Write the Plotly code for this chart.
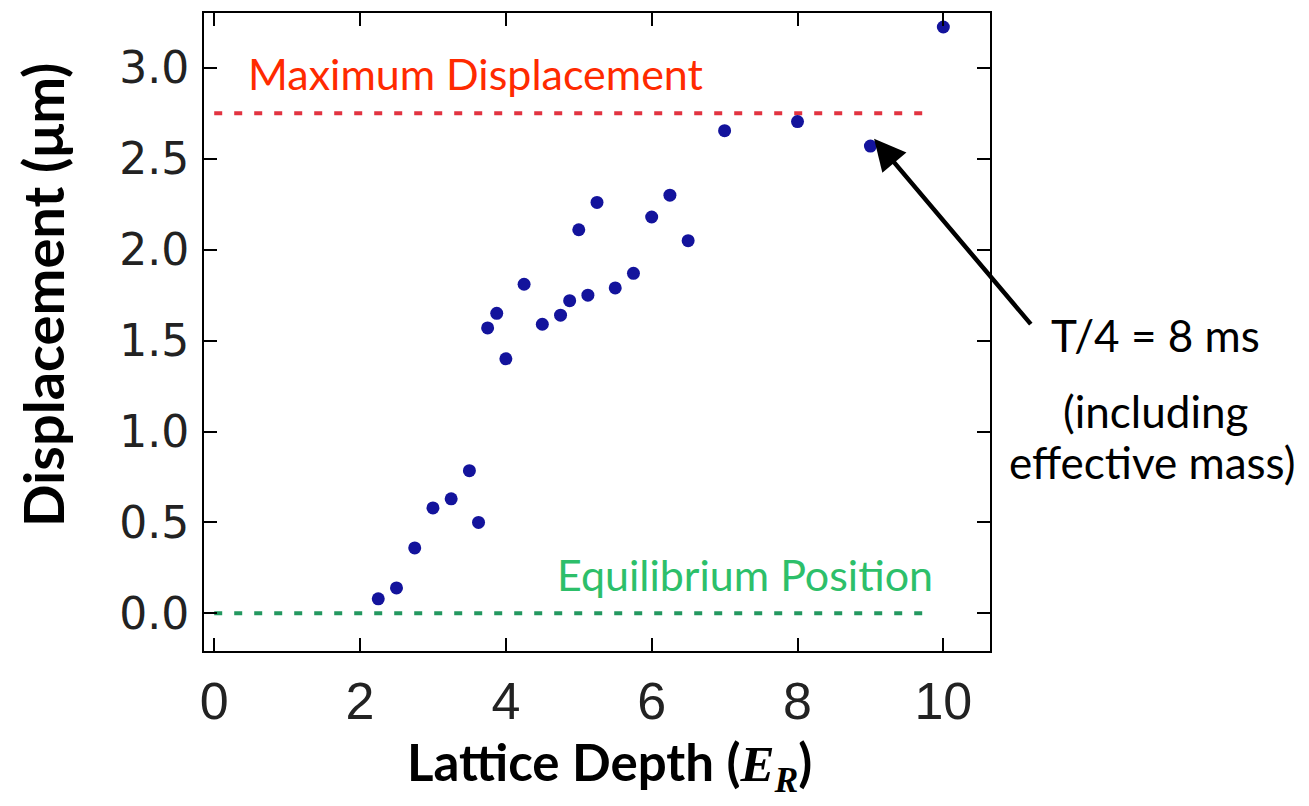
import plotly.graph_objects as go

# Lattice depth (in recoil energies) and measured displacement (um)
depth = [2.25, 2.5, 2.75, 3.0, 3.25, 3.5, 3.625, 3.75, 3.875, 4.0, 4.25, 4.5, 4.75,
         4.875, 5.0, 5.125, 5.25, 5.5, 5.75, 6.0, 6.25, 6.5, 7, 8, 9, 10]
displacement = [0.08, 0.14, 0.36, 0.58, 0.63, 0.785, 0.50, 1.57, 1.65, 1.40, 1.81, 1.59, 1.64,
                1.72, 2.11, 1.75, 2.26, 1.79, 1.87, 2.18, 2.30, 2.05, 2.655, 2.705, 2.57, 3.225]

# Reference levels
max_disp = 2.75
equilibrium = 0.0
ref_span = [0.0, 9.8]

x_ticks = [0, 2, 4, 6, 8, 10]
y_ticks = [0.0, 0.5, 1.0, 1.5, 2.0, 2.5, 3.0]
y_tick_text = ["0.0", "0.5", "1.0", "1.5", "2.0", "2.5", "3.0"]

W, H = 1309, 806
L, R, T, B = 204, 319, 13, 155

def px_x(p):
    return (p - L) / (W - L - R)

def px_y(p):
    return (H - B - p) / (H - T - B)

fig = go.Figure()

fig.add_trace(go.Scatter(
    x=ref_span, y=[max_disp, max_disp], mode="lines",
    line=dict(color="#e23340", width=4, dash="8px,12px"),
    hoverinfo="skip", showlegend=False))
fig.add_trace(go.Scatter(
    x=ref_span, y=[equilibrium, equilibrium], mode="lines",
    line=dict(color="#23985f", width=4, dash="8px,12px"),
    hoverinfo="skip", showlegend=False))

fig.add_trace(go.Scatter(
    x=depth, y=displacement, mode="markers",
    marker=dict(color="#13139c", size=13, line=dict(width=0)),
    showlegend=False))

axis_common = dict(
    showline=True, linecolor="black", linewidth=2, mirror="ticks",
    ticks="inside", ticklen=13, tickwidth=2, tickcolor="black",
    showgrid=False, zeroline=False,
)

fig.update_xaxes(range=[-0.14, 10.64], tickvals=x_ticks,
                 tickfont=dict(family="Liberation Sans", size=52, color="#222"),
                 ticklabelstandoff=4, **axis_common)
fig.update_yaxes(range=[-0.207, 3.302], tickvals=y_ticks, ticktext=y_tick_text,
                 tickfont=dict(family="DejaVu Sans", size=44, color="#222"),
                 ticklabelstandoff=4, **axis_common)

note_font = dict(family="Lato", size=44, color="black")

annotations = [
    dict(text="Maximum Displacement", x=px_x(246), y=px_y(101), xref="paper", yref="paper",
         xanchor="left", yanchor="bottom", showarrow=False,
         font=dict(family="Lato", size=43, color="#ff2a00")),
    dict(text="Equilibrium Position", x=px_x(555), y=px_y(602), xref="paper", yref="paper",
         xanchor="left", yanchor="bottom", showarrow=False,
         font=dict(family="Lato", size=43, color="#2dbf6a")),
    dict(text="T/4 = 8 ms", x=px_x(1155), y=px_y(335), xref="paper", yref="paper",
         xanchor="center", yanchor="middle", showarrow=False, font=note_font),
    dict(text="(including", x=px_x(1155), y=px_y(411), xref="paper", yref="paper",
         xanchor="center", yanchor="middle", showarrow=False, font=note_font),
    dict(text="effective mass)", x=px_x(1152), y=px_y(462), xref="paper", yref="paper",
         xanchor="center", yanchor="middle", showarrow=False, font=note_font),
    dict(text="", x=9.05, y=2.611, xref="x", yref="y", ax=158, ay=187,
         showarrow=True, arrowhead=2, arrowsize=1.4, arrowwidth=4.5, arrowcolor="black"),
    dict(text="<b>Displacement (μm)</b>", x=px_x(42), y=px_y(295), xref="paper", yref="paper",
         xanchor="center", yanchor="middle", textangle=-90, showarrow=False,
         font=dict(family="Lato", size=56, color="black")),
    dict(text="<b>Lattice Depth (</b><span style=\"font-family:'Liberation Serif'\"><b><i>E</i></b>"
              "<sub><b><i>R</i></b></sub></span><b>)</b>",
         x=px_x(609), y=px_y(766), xref="paper", yref="paper",
         xanchor="center", yanchor="middle", showarrow=False,
         font=dict(family="Lato", size=51, color="black")),
]

fig.update_layout(
    width=W, height=H,
    margin=dict(l=L, r=R, t=T, b=B),
    paper_bgcolor="white", plot_bgcolor="white",
    annotations=annotations,
)

fig.write_html("out.html")
